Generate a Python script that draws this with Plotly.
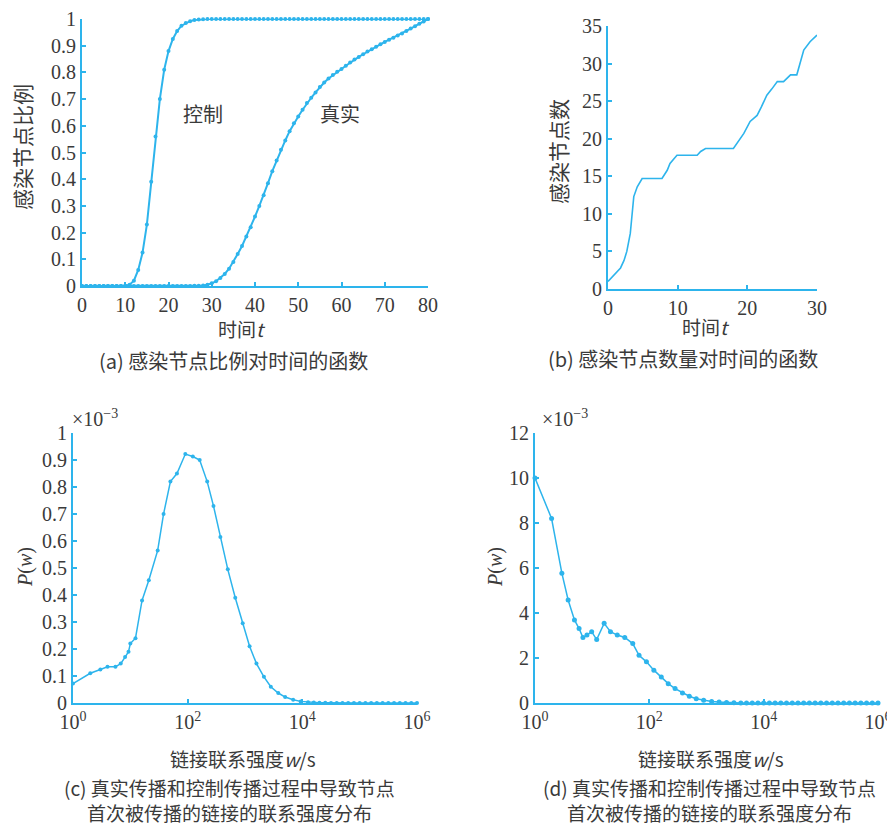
import plotly.graph_objects as go

# ---------------- data ----------------
# (a) fraction of infected nodes vs time
t_a = list(range(0, 81))
control_a = [0, 0, 0, 0, 0, 0, 0, 0, 0, 0,
             0.001, 0.005, 0.02, 0.06, 0.125, 0.23, 0.39, 0.56, 0.70, 0.81,
             0.88, 0.925, 0.955, 0.975, 0.985, 0.992, 0.996, 0.998, 0.999, 1.0,
             1.0, 1.0, 1.0, 1.0, 1.0, 1.0, 1.0, 1.0, 1.0, 1.0,
             1.0, 1.0, 1.0, 1.0, 1.0, 1.0, 1.0, 1.0, 1.0, 1.0,
             1.0, 1.0, 1.0, 1.0, 1.0, 1.0, 1.0, 1.0, 1.0, 1.0,
             1.0, 1.0, 1.0, 1.0, 1.0, 1.0, 1.0, 1.0, 1.0, 1.0,
             1.0, 1.0, 1.0, 1.0, 1.0, 1.0, 1.0, 1.0, 1.0, 1.0, 1.0]
real_a = [0, 0, 0, 0, 0, 0, 0, 0, 0, 0,
          0, 0, 0, 0, 0, 0, 0, 0, 0, 0,
          0, 0, 0, 0, 0, 0, 0.001, 0.001, 0.002, 0.005,
          0.01, 0.018, 0.03, 0.045, 0.065, 0.09, 0.12, 0.15, 0.185, 0.22,
          0.26, 0.30, 0.34, 0.385, 0.43, 0.47, 0.51, 0.545, 0.58, 0.61,
          0.635, 0.66, 0.685, 0.705, 0.725, 0.745, 0.762, 0.777, 0.79, 0.802,
          0.813, 0.825, 0.837, 0.848, 0.858, 0.868, 0.878, 0.887, 0.896, 0.905,
          0.914, 0.922, 0.93, 0.938, 0.946, 0.955, 0.964, 0.973, 0.982, 0.991, 1.0]

# (b) number of infected nodes vs time
t_b = [0, 1.0, 1.8, 2.3, 2.7, 3.2, 3.7, 4.2, 4.9, 5.6, 7.75, 8.5, 8.9, 9.9,
       12.8, 13.3, 14.0, 18.0, 18.8, 19.5, 20.4, 21.4, 22.0, 22.8, 23.5, 24.3,
       25.2, 26.2, 27.1, 27.6, 28.1, 29.0, 30.0]
n_b = [1, 2.0, 2.8, 3.8, 5.0, 7.4, 12.3, 13.6, 14.7, 14.7, 14.7, 15.8, 16.7, 17.8,
       17.8, 18.3, 18.7, 18.7, 19.7, 20.7, 22.3, 23.1, 24.2, 25.8, 26.6, 27.6,
       27.6, 28.5, 28.5, 30.0, 31.8, 32.9, 33.8]

# (c) P(w) (x 1e-3), first-infection links, real spreading
w_c = [1, 2, 3, 4, 5.5, 6.8, 8.1, 9.3, 10, 12.3, 16, 21, 30, 38, 50, 65, 91,
       123, 162, 219, 282, 372, 501, 676, 912, 1202, 1585, 2138, 2818, 3802,
       5012, 6918, 9333, 12589, 15849, 19953, 25119, 31623, 39811, 50119,
       63096, 79433, 100000, 125893, 158489, 199526, 251189, 316228, 398107,
       501187, 630957, 794328, 1000000]
p_c = [0.072, 0.11, 0.124, 0.134, 0.134, 0.146, 0.17, 0.19, 0.22, 0.24, 0.38,
       0.455, 0.565, 0.70, 0.82, 0.85, 0.922, 0.913, 0.90, 0.82, 0.73, 0.615,
       0.495, 0.39, 0.295, 0.21, 0.146, 0.097, 0.06, 0.037, 0.022, 0.012,
       0.006, 0.003, 0.002, 0.001, 0.0005, 0, 0, 0,
       0, 0, 0, 0, 0, 0, 0, 0, 0,
       0, 0, 0, 0]

# (d) P(w) (x 1e-3), control spreading
w_d = [1, 1.95, 2.95, 3.8, 4.9, 5.9, 6.9, 8.1, 9.8, 12, 16.2, 20.9, 27.5, 37.2,
       51.3, 66, 89, 120, 162, 214, 282, 380, 501, 661, 891, 1230, 1660, 2239,
       3020, 3981, 5012, 6310, 7943, 10000, 12589, 15849, 19953, 25119, 31623,
       39811, 50119, 63096, 79433, 100000, 125893, 158489, 199526, 251189,
       316228, 398107, 501187, 630957, 794328, 1000000]
p_d = [10.0, 8.2, 5.77, 4.58, 3.69, 3.31, 2.91, 3.02, 3.17, 2.82, 3.54, 3.17,
       3.02, 2.91, 2.64, 2.12, 1.83, 1.46, 1.16, 0.86, 0.64, 0.45, 0.30, 0.19,
       0.12, 0.07, 0.04, 0.02, 0.01, 0.005, 0.003, 0.002, 0.001, 0, 0, 0, 0, 0,
       0, 0, 0, 0, 0, 0, 0, 0, 0, 0, 0, 0, 0, 0, 0, 0]

tick_a_y = [0, 0.1, 0.2, 0.3, 0.4, 0.5, 0.6, 0.7, 0.8, 0.9, 1]
tick_a_y_text = ["0", "0.1", "0.2", "0.3", "0.4", "0.5", "0.6", "0.7", "0.8", "0.9", "1"]
tick_log_vals = [1, 100, 10000, 1000000]
tick_log_text = ["10<sup>0</sup>", "10<sup>2</sup>", "10<sup>4</sup>", "10<sup>6</sup>"]

# ---------------- style ----------------
W, H = 895, 826
OFF = 8  # page body margin
BLUE = "#2db4ec"
TXT = "#3a3a3a"
SERIF = "Liberation Serif"
CJK = "Noto Sans CJK SC"


def px_x(p):
    return (p - OFF) / W


def px_y(p):
    return 1 - (p - OFF) / H


fig = go.Figure()

line_style = dict(color=BLUE, width=2)
mk = dict(color=BLUE, size=4)

fig.add_trace(go.Scatter(x=t_a, y=control_a, mode="lines+markers", line=line_style,
                         marker=mk, xaxis="x", yaxis="y", cliponaxis=False, showlegend=False))
fig.add_trace(go.Scatter(x=t_a, y=real_a, mode="lines+markers", line=line_style,
                         marker=mk, xaxis="x", yaxis="y", cliponaxis=False, showlegend=False))
fig.add_trace(go.Scatter(x=t_b, y=n_b, mode="lines", line=dict(color=BLUE, width=1.6),
                         xaxis="x2", yaxis="y2", cliponaxis=False, showlegend=False))
fig.add_trace(go.Scatter(x=w_c, y=p_c, mode="lines+markers", line=dict(color=BLUE, width=1.5),
                         marker=mk, xaxis="x3", yaxis="y3", cliponaxis=False, showlegend=False))
fig.add_trace(go.Scatter(x=w_d, y=p_d, mode="lines+markers", line=dict(color=BLUE, width=1.5),
                         marker=dict(color=BLUE, size=5), xaxis="x4", yaxis="y4",
                         cliponaxis=False, showlegend=False))

axis_common = dict(showline=True, linecolor=BLUE, linewidth=2, ticks="inside",
                   ticklen=4, tickwidth=1.5, tickcolor=BLUE, showgrid=False,
                   zeroline=False, mirror=False, automargin=False,
                   tickfont=dict(family=SERIF, size=20, color=TXT))

fig.update_layout(
    width=W, height=H, margin=dict(l=0, r=0, t=0, b=0, pad=0), autosize=False,
    paper_bgcolor="white", plot_bgcolor="white",
    xaxis=dict(axis_common, domain=[px_x(82), px_x(428)], range=[0, 80],
               tickvals=[0, 10, 20, 30, 40, 50, 60, 70, 80], anchor="y"),
    yaxis=dict(axis_common, domain=[px_y(286), px_y(19)], range=[0, 1],
               tickvals=tick_a_y, ticktext=tick_a_y_text, anchor="x"),
    xaxis2=dict(axis_common, domain=[px_x(608), px_x(817)], range=[0, 30],
                tickvals=[0, 10, 20, 30], anchor="y2"),
    yaxis2=dict(axis_common, domain=[px_y(289), px_y(26)], range=[0, 35],
                tickvals=[0, 5, 10, 15, 20, 25, 30, 35], anchor="x2"),
    xaxis3=dict(axis_common, domain=[px_x(73), px_x(417)], type="log", range=[0, 6],
                tickvals=tick_log_vals, ticktext=tick_log_text, anchor="y3"),
    yaxis3=dict(axis_common, domain=[px_y(703), px_y(433)], range=[0, 1],
                tickvals=tick_a_y, ticktext=tick_a_y_text, anchor="x3"),
    xaxis4=dict(axis_common, domain=[px_x(535), px_x(878)], type="log", range=[0, 6],
                tickvals=tick_log_vals, ticktext=tick_log_text, anchor="y4"),
    yaxis4=dict(axis_common, domain=[px_y(703), px_y(433)], range=[0, 12],
                tickvals=[0, 2, 4, 6, 8, 10, 12], anchor="x4"),
)


def note(text, x, y, size=20, angle=0, family=CJK, color=TXT):
    fig.add_annotation(text=text, x=px_x(x), y=px_y(y), xref="paper", yref="paper",
                       showarrow=False, textangle=angle, xanchor="center", yanchor="middle",
                       align="center", font=dict(family=family, size=size, color=color))


# panel (a)
note("控制", 203, 113, size=20)
note("真实", 340, 113, size=20)
note("感染节点比例", 22, 147, size=21, angle=-90)
note("时间<i>t</i>", 242, 328, size=19)
note("(a) 感染节点比例对时间的函数", 233, 360, size=20)

# panel (b)
note("感染节点数", 558, 152, size=21, angle=-90)
note("时间<i>t</i>", 706, 326, size=19)
note("(b) 感染节点数量对时间的函数", 683, 358, size=20)

# panel (c)
note("×10<sup>−3</sup>", 95, 418, size=20, family=SERIF)
note("<i>P</i>(<i>w</i>)", 25, 567, size=20, angle=-90, family=SERIF)
note("链接联系强度<i>w</i>/s", 243, 758, size=19)
note("(c) 真实传播和控制传播过程中导致节点<br>首次被传播的链接的联系强度分布", 229, 800, size=19)

# panel (d)
note("×10<sup>−3</sup>", 565, 418, size=20, family=SERIF)
note("<i>P</i>(<i>w</i>)", 495, 567, size=20, angle=-90, family=SERIF)
note("链接联系强度<i>w</i>/s", 711, 758, size=19)
note("(d) 真实传播和控制传播过程中导致节点<br>首次被传播的链接的联系强度分布", 709, 800, size=19)

fig.write_html("out.html")
